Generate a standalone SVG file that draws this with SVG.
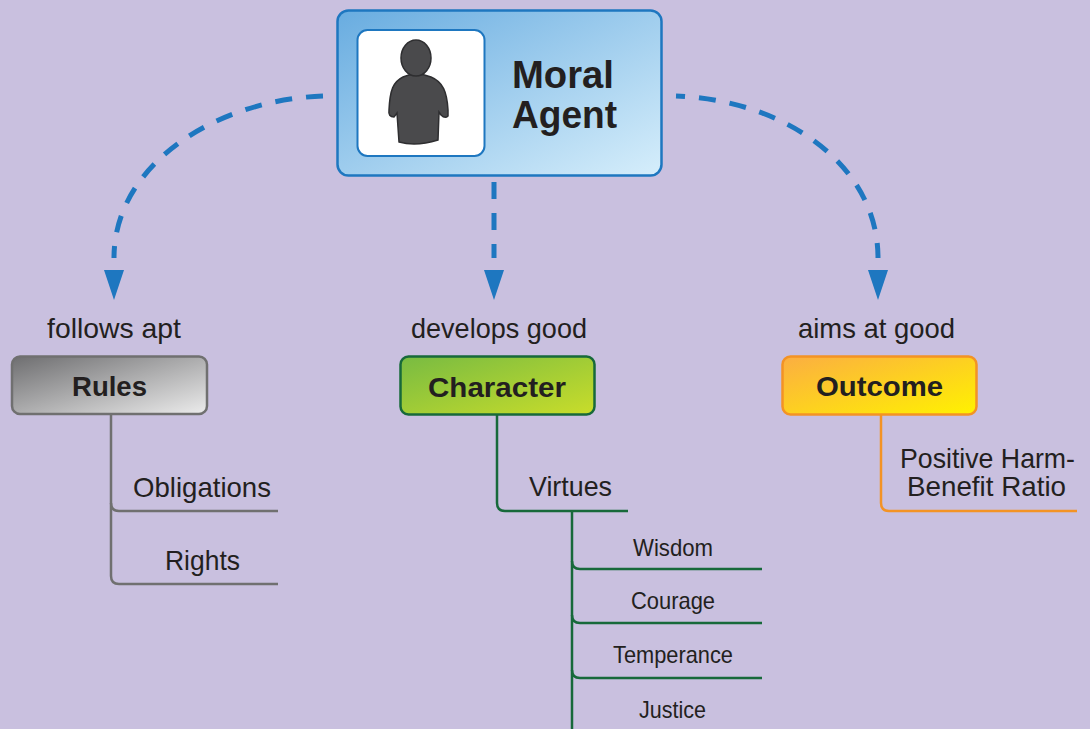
<svg xmlns="http://www.w3.org/2000/svg" width="1090" height="729" viewBox="0 0 1090 729">
<style>
.lbl{font-family:"Liberation Sans",Arial,sans-serif;font-size:28px;fill:#231f20;text-anchor:start}
.sm{font-family:"Liberation Sans",Arial,sans-serif;font-size:24px;fill:#231f20}
.ttl{font-family:"Liberation Sans",Arial,sans-serif;font-size:28px;font-weight:bold;fill:#231f20}
.big{font-family:"Liberation Sans",Arial,sans-serif;font-size:38px;font-weight:bold;fill:#231f20}
.dash{fill:none;stroke:#1e77c0;stroke-width:5;stroke-dasharray:17 14;marker-end:url(#arr)}
.tree{fill:none;stroke-width:2.5}
</style>
<defs>
<linearGradient id="gBlue" x1="0" y1="0" x2="1" y2="1"><stop offset="0" stop-color="#68ace0"/><stop offset="1" stop-color="#d6eefb"/></linearGradient>
<linearGradient id="gGray" x1="0" y1="0" x2="1" y2="1"><stop offset="0" stop-color="#6e6e70"/><stop offset="1" stop-color="#ececec"/></linearGradient>
<linearGradient id="gGreen" x1="0" y1="0" x2="1" y2="1"><stop offset="0" stop-color="#78bb42"/><stop offset="1" stop-color="#c9dd2a"/></linearGradient>
<linearGradient id="gOrange" x1="0" y1="0" x2="1" y2="1"><stop offset="0" stop-color="#fbae42"/><stop offset="1" stop-color="#fff200"/></linearGradient>
<marker id="arr" markerUnits="userSpaceOnUse" viewBox="-12 0 42 20" refX="-12" refY="10" markerWidth="42" markerHeight="20" orient="auto">
<path d="M0,0 L30,10 L0,20 Z" fill="#1e77c0"/>
</marker>
</defs>
<rect width="1090" height="729" fill="#c9c0df"/>

<g id="connectors">
<path class="dash" d="M323 96 C215 100 114 165 114 258"/>
<path class="dash" d="M494 182 L494 258"/>
<path class="dash" style="stroke-dashoffset:8" d="M676 96 C785 100 878 165 878 258"/>
<g class="tree" stroke="#707070">
<path d="M111 414 V503 Q111 511 119 511 H278"/>
<path d="M111 503 V576 Q111 584 119 584 H278"/>
</g>
<g class="tree" stroke="#17693a">
<path d="M497 415 V503 Q497 511 505 511 H628"/>
<path d="M572 511 V740"/>
<path d="M572 561 Q572 569 580 569 H762"/>
<path d="M572 615 Q572 623 580 623 H762"/>
<path d="M572 670 Q572 678 580 678 H762"/>
</g>
<g class="tree" stroke="#f39325">
<path d="M881 415 V503 Q881 511 889 511 H1077"/>
</g>
</g>

<g id="moral-agent">
<rect x="337.5" y="10.5" width="324" height="165" rx="11" fill="url(#gBlue)" stroke="#1e77c0" stroke-width="2.5"/>
<rect x="357.5" y="30" width="127" height="126" rx="10" fill="#ffffff" stroke="#1e77c0" stroke-width="2"/>
<path d="M403 77 Q416 71 431 77 C443 82 447 92 448 110 L448 116 Q445 119 441 115 L439 112 L438 140 Q416 147 399 142 L397 113 L394 117 Q388 117 389 110 C390 90 393 82 403 77 Z" fill="#4a4a4c" stroke="#2e2e30" stroke-width="1.5"/>
<ellipse cx="416" cy="58" rx="15" ry="18" fill="#4a4a4c" stroke="#2e2e30" stroke-width="1.5"/>
<text class="big" x="512" y="88" textLength="102" lengthAdjust="spacingAndGlyphs">Moral</text>
<text class="big" x="512" y="128" textLength="105" lengthAdjust="spacingAndGlyphs">Agent</text>
</g>

<g id="rules">
<text class="lbl" x="47" y="338" textLength="134" lengthAdjust="spacingAndGlyphs">follows apt</text>
<rect x="12" y="356.5" width="195" height="57.5" rx="8" fill="url(#gGray)" stroke="#707070" stroke-width="2.5"/>
<text class="ttl" x="72" y="396" textLength="75" lengthAdjust="spacingAndGlyphs">Rules</text>
<text class="lbl" x="133" y="497" textLength="138" lengthAdjust="spacingAndGlyphs">Obligations</text>
<text class="lbl" x="165" y="570" textLength="75" lengthAdjust="spacingAndGlyphs">Rights</text>
</g>

<g id="character">
<text class="lbl" x="411" y="338" textLength="176" lengthAdjust="spacingAndGlyphs">develops good</text>
<rect x="400.5" y="356.5" width="194" height="58" rx="8" fill="url(#gGreen)" stroke="#17693a" stroke-width="2.5"/>
<text class="ttl" x="428" y="397" textLength="138" lengthAdjust="spacingAndGlyphs">Character</text>
<text class="lbl" x="529" y="496" textLength="83" lengthAdjust="spacingAndGlyphs">Virtues</text>
<text class="sm" x="633" y="556" textLength="80" lengthAdjust="spacingAndGlyphs">Wisdom</text>
<text class="sm" x="631" y="609" textLength="84" lengthAdjust="spacingAndGlyphs">Courage</text>
<text class="sm" x="613" y="663" textLength="120" lengthAdjust="spacingAndGlyphs">Temperance</text>
<text class="sm" x="639" y="718" textLength="67" lengthAdjust="spacingAndGlyphs">Justice</text>
</g>

<g id="outcome">
<text class="lbl" x="798" y="338" textLength="157" lengthAdjust="spacingAndGlyphs">aims at good</text>
<rect x="782.5" y="356.5" width="194" height="58" rx="8" fill="url(#gOrange)" stroke="#f39325" stroke-width="2.5"/>
<text class="ttl" x="816" y="396" textLength="127" lengthAdjust="spacingAndGlyphs">Outcome</text>
<text class="lbl" x="900" y="468" textLength="175" lengthAdjust="spacingAndGlyphs">Positive Harm-</text>
<text class="lbl" x="907" y="496" textLength="159" lengthAdjust="spacingAndGlyphs">Benefit Ratio</text>
</g>
</svg>
